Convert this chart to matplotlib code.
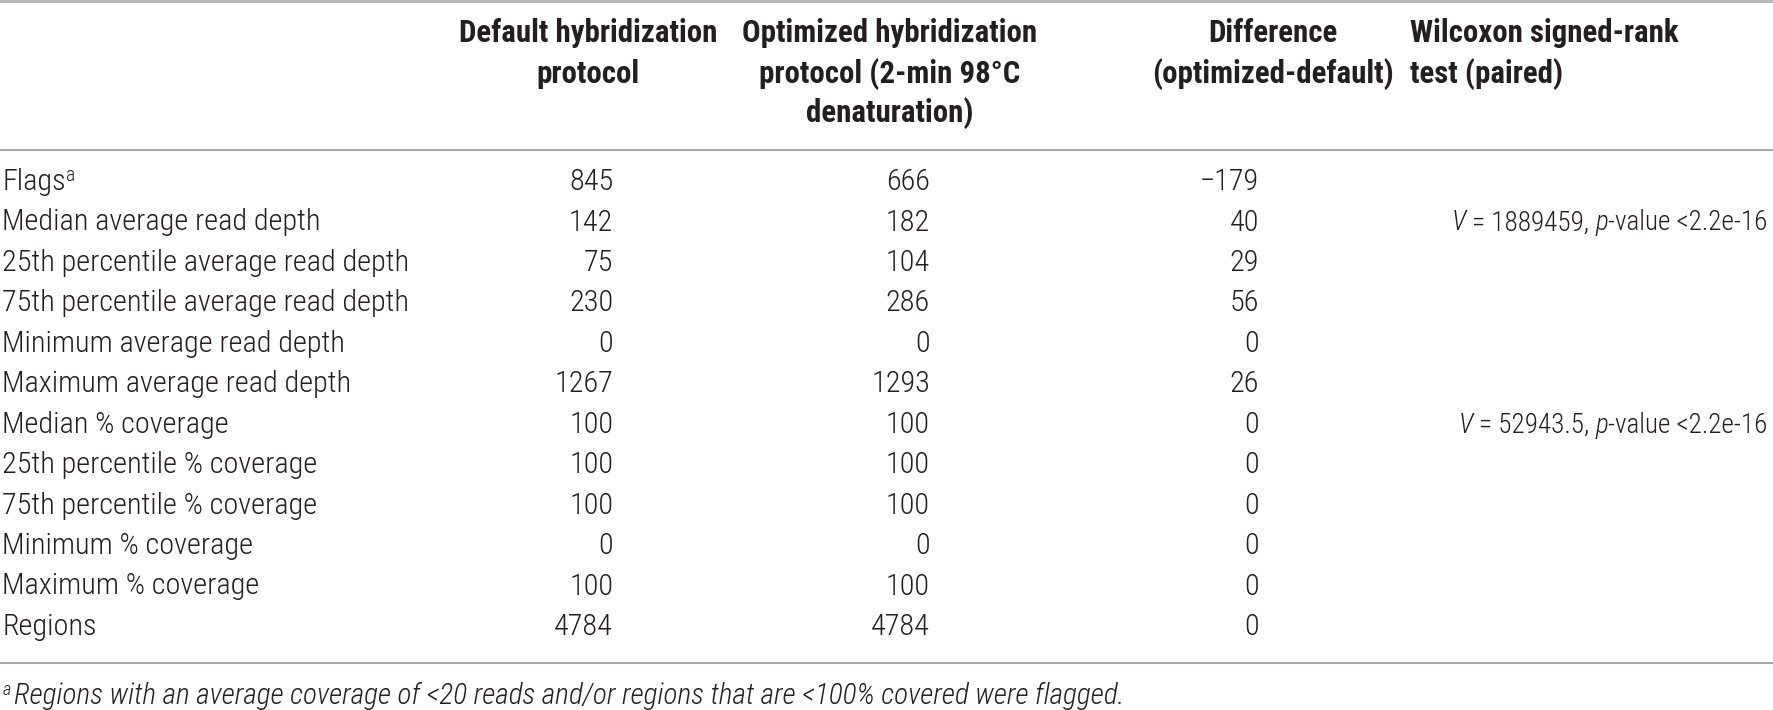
import matplotlib
matplotlib.use("Agg")
import matplotlib.pyplot as plt
from matplotlib import font_manager

# ---------------- data ----------------
row_labels = ["Flags", "Median average read depth",
              "25th percentile average read depth", "75th percentile average read depth",
              "Minimum average read depth", "Maximum average read depth",
              "Median % coverage", "25th percentile % coverage", "75th percentile % coverage",
              "Minimum % coverage", "Maximum % coverage", "Regions"]
row_marks = ["a", "", "", "", "", "", "", "", "", "", "", ""]
default_vals = [845, 142, 75, 230, 0, 1267, 100, 100, 100, 0, 100, 4784]
optimized_vals = [666, 182, 104, 286, 0, 1293, 100, 100, 100, 0, 100, 4784]
difference_vals = [-179, 40, 29, 56, 0, 26, 0, 0, 0, 0, 0, 0]
wilcoxon_V = ["", "1889459", "", "", "", "", "52943.5", "", "", "", "", ""]
wilcoxon_p = ["", "<2.2e-16", "", "", "", "", "<2.2e-16", "", "", "", "", ""]
headers = ["Default hybridization\nprotocol",
           "Optimized hybridization\nprotocol (2-min 98\u00b0C\ndenaturation)",
           "Difference\n(optimized-default)",
           "Wilcoxon signed-rank\ntest (paired)"]
footnote_mark = "a"
footnote = "Regions with an average coverage of <20 reads and/or regions that are <100% covered were flagged."

# ---------------- fonts ----------------
available = {f.name for f in font_manager.fontManager.ttflist}
family = "Liberation Sans"
for cand in ["Liberation Sans Narrow", "Roboto Condensed", "Roboto", "Liberation Sans"]:
    if cand in available:
        family = cand
        break
plt.rcParams["font.family"] = [family, "DejaVu Sans"]

W, H = 1774, 710
k = W / 1568.0          # layout measured on a 1568-wide view
fig = plt.figure(figsize=(W / 100, H / 100), dpi=100)
ax = fig.add_axes([0, 0, 1, 1])
ax.set_xlim(0, W / k)
ax.set_ylim(H / k, 0)
ax.axis("off")

txt_col = "#231f20"
line_col = "#a8a8a8"
body_w = 300

renderer = fig.canvas.get_renderer()

def width_px(s, fs, weight="normal", style="normal"):
    t1 = ax.text(0, 0, "X" + s + "X", fontsize=fs, fontweight=weight, fontstyle=style)
    t2 = ax.text(0, 0, "XX", fontsize=fs, fontweight=weight, fontstyle=style)
    w = t1.get_window_extent(renderer).width - t2.get_window_extent(renderer).width
    t1.remove(); t2.remove()
    return w

def fit_size(s, target_w, weight="normal", style="normal"):
    return 20 * target_w * k / width_px(s, 20, weight, style)

def runs(x, y, parts, fs):
    """left-anchored runs on a common baseline; parts: (text, style, scale, rise_em, gap)"""
    for s, style, scale, rise, gap in parts:
        f = fs * scale
        x += gap
        ax.text(x, y - rise * fs / k, s, ha="left", va="baseline", fontsize=f,
                fontweight=body_w, fontstyle=style, color=txt_col)
        x += width_px(s, f, body_w, style) / k

def runs_right(xr, y, parts, fs):
    """right-anchored runs on a common baseline"""
    for s, style, scale, rise, gap in reversed(parts):
        f = fs * scale
        ax.text(xr, y - rise * fs / k, s, ha="right", va="baseline", fontsize=f,
                fontweight=body_w, fontstyle=style, color=txt_col)
        xr -= width_px(s, f, body_w, style) / k + gap

body_fs = fit_size("25th percentile average read depth", 358, weight=body_w)
head_fs = fit_size("Default hybridization", 228, weight="bold")
foot_fs = fit_size(footnote, 985, weight=body_w, style="italic")
wil_fs = body_fs * 0.9

def wil_parts(v, p):
    return [("V", "italic", 1, 0, 0), (" = " + v + ", ", "normal", 1, 0, 0),
            ("p", "italic", 1, 0, 0), ("-value " + p, "normal", 1, 0, 0)]

# lines
ax.axhline(1.0, color="#b8b8b8", lw=3.0)
ax.axhline(133, color=line_col, lw=1.5)
ax.axhline(586, color=line_col, lw=1.5)

# headers
head_y = [29, 65, 100]
head_x = [(520, "center"), (786, "center"), (1125, "center"), (1246, "left")]
for h, (x, ha) in zip(headers, head_x):
    for j, line in enumerate(h.split("\n")):
        ax.text(x, head_y[j], line, ha=ha, va="center", fontsize=head_fs,
                fontweight="bold", color=txt_col)

# body
row_y0, row_dy = 161, 35.75
base_off = 0.36 * body_fs / k    # baseline below the row centre
for i, lab in enumerate(row_labels):
    y = row_y0 + i * row_dy
    kw = dict(va="center", fontsize=body_fs, color=txt_col, fontweight=body_w)
    parts = [(lab, "normal", 1, 0, 0)]
    if row_marks[i]:
        parts.append((row_marks[i], "normal", 0.65, 0.42, 0))
    runs(2, y + base_off, parts, body_fs)
    ax.text(542, y, str(default_vals[i]), ha="right", **kw)
    ax.text(822, y, str(optimized_vals[i]), ha="right", **kw)
    d = difference_vals[i]
    ds = ("\u2212" + str(-d)) if d < 0 else str(d)
    ax.text(1113, y, ds, ha="right", **kw)
    if wilcoxon_V[i]:
        runs_right(1562, y + base_off, wil_parts(wilcoxon_V[i], wilcoxon_p[i]), wil_fs)

runs(2, 622, [(footnote_mark, "italic", 0.62, 0.42, 0), (footnote, "italic", 1, 0, 3)], foot_fs)

fig.savefig("out.png", dpi=100, facecolor="white")
